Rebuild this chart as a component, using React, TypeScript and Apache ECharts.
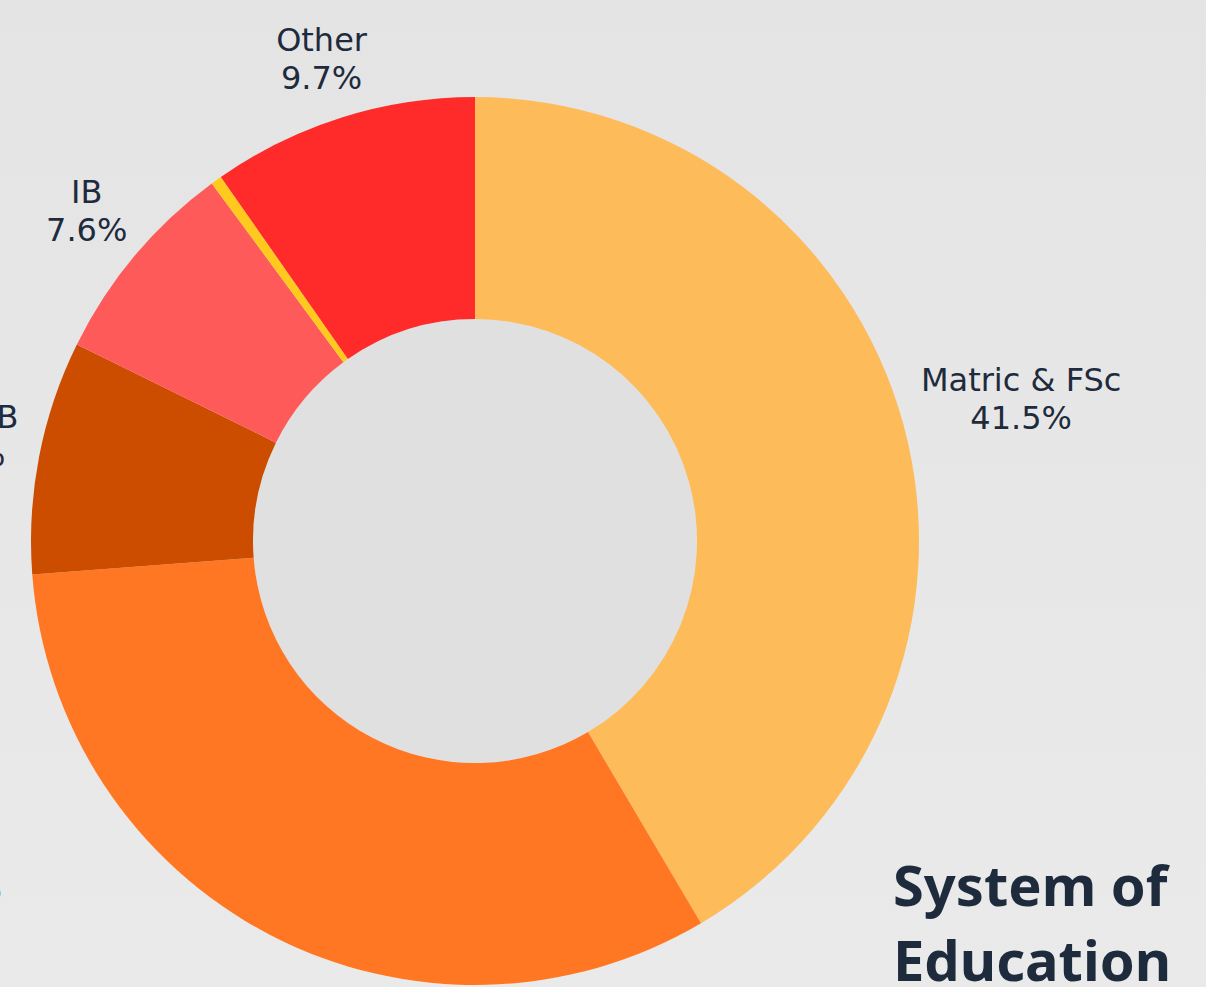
import React, { useEffect, useRef } from "react";
import * as echarts from "echarts";

// ---- data ----
const categories = ["Matric & FSc", "CAIE", "AKUEB", "IB", "American", "Other"];
const shares = [41.5, 32.3, 8.5, 7.6, 0.4, 9.7];
const sliceColors = ["#FDBB5A", "#FF7722", "#CC4C00", "#FF5A5A", "#FFC91E", "#FF2B2B"];
const labelVisible = [true, true, true, true, false, true];
const titleText = "System of\nEducation";

// ---- layout / style ----
const W = 1206;
const H = 987;
const CX = 475;
const CY = 541;
const R_IN = 222;
const R_OUT = 444;
const GAP = 22;
const TEXT = "#1E2B3C";
const LEFT_LABEL_RIGHT = 2;
const LEFT_LABEL_Y = 870;

export default function App() {
  const ref = useRef<HTMLDivElement>(null);

  useEffect(() => {
    if (!ref.current) return;
    const chart = echarts.init(ref.current, undefined, { renderer: "svg" });

    const total = shares.reduce((a, b) => a + b, 0);
    const mids: number[] = [];
    let acc = 0;
    shares.forEach((v) => {
      mids.push(((acc + v / 2) / total) * Math.PI * 2);
      acc += v;
    });

    const data = categories.map((name, i) => ({
      name,
      value: shares[i],
      itemStyle: { color: sliceColors[i] },
      label: { show: labelVisible[i] },
    }));

    chart.setOption({
      animation: false,
      backgroundColor: new echarts.graphic.LinearGradient(0, 0, 0, 1, [
        { offset: 0, color: "#E4E4E4" },
        { offset: 1, color: "#EAEAEA" },
      ]),
      title: {
        text: titleText,
        left: 893,
        top: 846,
        padding: 0,
        textStyle: {
          fontFamily: "Noto Sans",
          fontSize: 56,
          fontWeight: "bold",
          lineHeight: 75,
          color: TEXT,
        },
      },
      series: [
        {
          type: "pie",
          silent: true,
          center: [CX, CY],
          radius: [0, R_IN],
          label: { show: false },
          labelLine: { show: false },
          itemStyle: { color: "#E0E0E0" },
          data: [{ name: "hole", value: 1 }],
        },
        {
          type: "pie",
          center: [CX, CY],
          radius: [R_IN, R_OUT],
          startAngle: 90,
          clockwise: true,
          avoidLabelOverlap: false,
          minAngle: 0,
          itemStyle: { borderWidth: 0 },
          label: {
            show: true,
            position: "outside",
            fontFamily: "DejaVu Sans",
            fontSize: 32,
            lineHeight: 38,
            color: TEXT,
            formatter: (p: any) => `${p.name}\n${Number(p.value).toFixed(1)}%`,
          },
          labelLine: { show: false },
          labelLayout: (p: any) => {
            if (p.seriesIndex !== 1) return {};
            const i = p.dataIndex;
            const w = p.labelRect.width;
            const h = p.labelRect.height;
            if (i === 1) {
              return {
                x: LEFT_LABEL_RIGHT - w / 2,
                y: LEFT_LABEL_Y,
                align: "center",
                verticalAlign: "middle",
              };
            }
            const s = Math.sin(mids[i]);
            const c = Math.cos(mids[i]);
            const vy = Math.sign(c) * Math.sqrt(Math.abs(c));
            return {
              x: CX + (R_OUT + GAP) * s + (s * w) / 2,
              y: CY - (R_OUT + GAP) * c - (vy * h) / 2,
              align: "center",
              verticalAlign: "middle",
            };
          },
          data,
        },
      ],
    });

    return () => chart.dispose();
  }, []);

  return (
    <div
      ref={ref}
      style={{ position: "absolute", left: 0, top: 0, width: W, height: H }}
    />
  );
}
